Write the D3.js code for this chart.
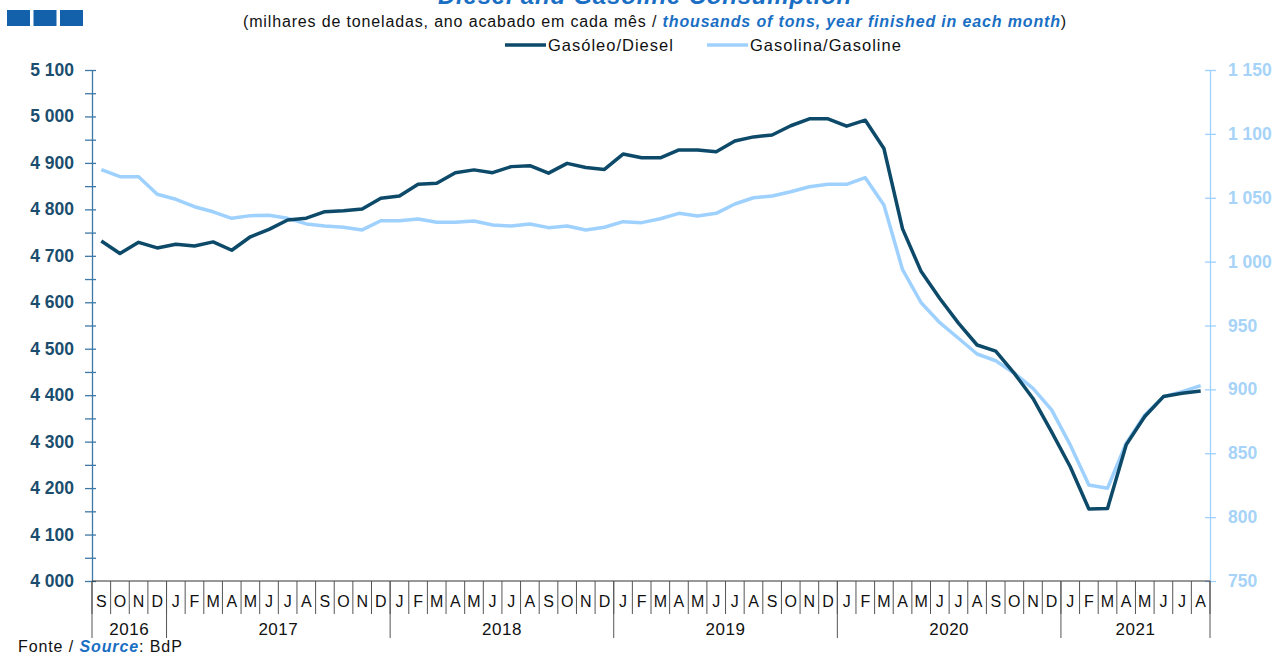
<!DOCTYPE html>
<html>
<head>
<meta charset="utf-8">
<script src="https://cdn.jsdelivr.net/npm/d3@7"></script>
<style>
  html, body { margin: 0; padding: 0; background: #fff; }
  svg { display: block; font-family: "Liberation Sans", Arial, sans-serif; }
</style>
</head>
<body>
<svg id="chart" width="1275" height="656"></svg>
<script>
// Months from September 2016 to August 2021
const monthLetters = [
  "S","O","N","D",
  "J","F","M","A","M","J","J","A","S","O","N","D",
  "J","F","M","A","M","J","J","A","S","O","N","D",
  "J","F","M","A","M","J","J","A","S","O","N","D",
  "J","F","M","A","M","J","J","A","S","O","N","D",
  "J","F","M","A","M","J","J","A"
];
const yearLabels = ["2016","2017","2018","2019","2020","2021"];
const yearMonthCounts = [4, 12, 12, 12, 12, 8];

// Diesel consumption, thousands of tons, 12-month rolling (left axis)
const diesel = [
  4732, 4705, 4729, 4717,
  4725, 4721, 4730, 4712, 4741, 4757, 4777, 4781, 4795, 4797, 4801, 4824,
  4829, 4854, 4856, 4879, 4885, 4879, 4892, 4894, 4878, 4899, 4890, 4886,
  4919, 4911, 4911, 4928, 4928, 4924, 4947, 4956, 4960, 4980, 4995, 4995,
  4979, 4992, 4931, 4758, 4666, 4608, 4555, 4508, 4495, 4447, 4393, 4321,
  4246, 4155, 4156, 4293, 4354, 4397, 4404, 4409
];

// Gasoline consumption, thousands of tons, 12-month rolling (right axis)
const gasoline = [
  1072, 1066.5, 1066.5, 1052.7,
  1048.8, 1043, 1039, 1033.9, 1036, 1036.3, 1033.9, 1029.5, 1027.9, 1026.9, 1024.8, 1032,
  1032, 1033.4, 1030.8, 1030.8, 1031.8, 1028.7, 1027.9, 1029.5, 1026.6, 1027.9, 1024.8, 1026.9,
  1031.3, 1030.5, 1033.6, 1037.8, 1035.7, 1037.8, 1045.1, 1050, 1051.4, 1054.7, 1058.6, 1060.5,
  1060.5, 1065.7, 1044.3, 993.7, 967.8, 952.2, 940, 927.7, 922.4, 912.6, 900.8, 883.9,
  856.5, 825.1, 822.6, 857.8, 880, 894.3, 898.2, 902.9
];

const leftTicks = [4000, 4100, 4200, 4300, 4400, 4500, 4600, 4700, 4800, 4900, 5000, 5100];
const rightTicks = [750, 800, 850, 900, 950, 1000, 1050, 1100, 1150];

const DIESEL_COLOR = "#0d4a6a";
const GASOLINE_COLOR = "#9fd1ff";
const LEFT_AXIS_COLOR = "#3d78a6";
const LEFT_LABEL_COLOR = "#1b4e6e";
const RIGHT_LABEL_COLOR = "#a6d3f7";
const TITLE_BLUE = "#1a6fc4";

const svg = d3.select("#chart");
const plot = { left: 92, right: 1210, top: 70, bottom: 581 };

const fmt = v => d3.format(",")(v).replace(/,/g, " ");

const x = d3.scaleBand()
  .domain(d3.range(monthLetters.length))
  .range([plot.left, plot.right])
  .paddingInner(0).paddingOuter(0);

const yLeft = d3.scaleLinear().domain([4000, 5100]).range([plot.bottom, plot.top]);
const yRight = d3.scaleLinear().domain([750, 1150]).range([plot.bottom, plot.top]);

// Title (runs off the top edge) and subtitle
svg.append("text")
  .attr("x", 645).attr("y", 4)
  .attr("text-anchor", "middle")
  .attr("font-size", 24).attr("font-weight", "bold").attr("font-style", "italic")
  .attr("letter-spacing", 0.8)
  .attr("fill", TITLE_BLUE)
  .text("Diesel and Gasoline Consumption");

const sub = svg.append("text")
  .attr("x", 655).attr("y", 27)
  .attr("text-anchor", "middle")
  .attr("font-size", 16).attr("letter-spacing", 0.85).attr("fill", "#111");
sub.append("tspan").text("(milhares de toneladas,  ano acabado em cada mês / ");
sub.append("tspan").attr("font-weight", "bold").attr("font-style", "italic")
  .attr("fill", TITLE_BLUE).text("thousands of tons, year finished in each month");
sub.append("tspan").text(")");

// Three-square mark at top left
const squares = [0, 1, 2];
svg.selectAll("rect.mark").data(squares).enter().append("rect")
  .attr("class", "mark")
  .attr("x", d => 7 + d * 26.5).attr("y", 10)
  .attr("width", 23).attr("height", 16)
  .attr("fill", "#1461ab");

// Legend
const legend = [
  { label: "Gasóleo/Diesel", color: DIESEL_COLOR, x: 505 },
  { label: "Gasolina/Gasoline", color: GASOLINE_COLOR, x: 707 }
];
const lg = svg.selectAll("g.legend").data(legend).enter().append("g")
  .attr("class", "legend")
  .attr("transform", d => `translate(${d.x},45)`);
lg.append("line").attr("x1", 0).attr("x2", 41).attr("y1", 0).attr("y2", 0)
  .attr("stroke", d => d.color).attr("stroke-width", 3.5);
lg.append("text").attr("x", 43).attr("y", 6)
  .attr("font-size", 16.5).attr("letter-spacing", 1).attr("fill", "#111").text(d => d.label);

// Left axis
const leftAxis = d3.axisLeft(yLeft)
  .tickValues(d3.range(4000, 5101, 50))
  .tickSize(0)
  .tickFormat("");
const gL = svg.append("g").attr("transform", `translate(${plot.left},0)`).call(leftAxis);
gL.select(".domain").attr("stroke", LEFT_AXIS_COLOR).attr("stroke-width", 1.3);
gL.selectAll(".tick line").attr("x1", -7).attr("x2", 4)
  .attr("stroke", LEFT_AXIS_COLOR).attr("stroke-width", 1.3);
svg.append("g").selectAll("text").data(leftTicks).enter().append("text")
  .attr("x", 74).attr("y", d => yLeft(d) + 6)
  .attr("text-anchor", "end")
  .attr("font-size", 17.5).attr("font-weight", "bold")
  .attr("fill", LEFT_LABEL_COLOR)
  .text(fmt);

// Right axis
const rightAxis = d3.axisRight(yRight)
  .tickValues(rightTicks)
  .tickSize(0)
  .tickFormat("");
const gR = svg.append("g").attr("transform", `translate(${plot.right},0)`).call(rightAxis);
gR.select(".domain").attr("stroke", GASOLINE_COLOR).attr("stroke-width", 1.3);
gR.selectAll(".tick line").attr("x1", -5).attr("x2", 6)
  .attr("stroke", GASOLINE_COLOR).attr("stroke-width", 1.3);
svg.append("g").selectAll("text").data(rightTicks).enter().append("text")
  .attr("x", 1228).attr("y", d => yRight(d) + 6)
  .attr("text-anchor", "start")
  .attr("font-size", 17.5).attr("font-weight", "bold")
  .attr("fill", RIGHT_LABEL_COLOR)
  .text(fmt);

// Category axis: baseline, month separators, month letters, year groups
svg.append("line")
  .attr("x1", plot.left).attr("x2", plot.right)
  .attr("y1", plot.bottom).attr("y2", plot.bottom)
  .attr("stroke", "#333").attr("stroke-width", 1);

const bw = x.bandwidth();
const edgeX = i => (i < monthLetters.length ? x(i) : x(i - 1) + bw);
const monthIdx = d3.range(monthLetters.length + 1);
svg.append("g").selectAll("line").data(monthIdx).enter().append("line")
  .attr("x1", edgeX).attr("x2", edgeX)
  .attr("y1", plot.bottom).attr("y2", 614)
  .attr("stroke", "#555").attr("stroke-width", 1);

svg.append("g").selectAll("text").data(monthLetters).enter().append("text")
  .attr("x", (d, i) => x(i) + bw / 2).attr("y", 607)
  .attr("text-anchor", "middle")
  .attr("font-size", 16).attr("fill", "#111")
  .text(d => d);

const yearStarts = yearMonthCounts.map((c, i) => d3.sum(yearMonthCounts.slice(0, i)));
const yearBounds = yearStarts.concat([monthLetters.length]);
svg.append("g").selectAll("line").data(yearBounds).enter().append("line")
  .attr("x1", edgeX).attr("x2", edgeX)
  .attr("y1", plot.bottom).attr("y2", 638)
  .attr("stroke", "#555").attr("stroke-width", 1);

svg.append("g").selectAll("text").data(yearLabels).enter().append("text")
  .attr("x", (d, i) => x(yearStarts[i]) + (yearMonthCounts[i] * bw) / 2)
  .attr("y", 635)
  .attr("text-anchor", "middle")
  .attr("font-size", 17).attr("letter-spacing", 0.5).attr("fill", "#111")
  .text(d => d);

// Series lines
const lineLeft = d3.line().x((d, i) => x(i) + bw / 2).y(d => yLeft(d));
const lineRight = d3.line().x((d, i) => x(i) + bw / 2).y(d => yRight(d));

svg.append("path").datum(gasoline)
  .attr("d", lineRight)
  .attr("fill", "none").attr("stroke", GASOLINE_COLOR)
  .attr("stroke-width", 3.5).attr("stroke-linejoin", "round");

svg.append("path").datum(diesel)
  .attr("d", lineLeft)
  .attr("fill", "none").attr("stroke", DIESEL_COLOR)
  .attr("stroke-width", 3.5).attr("stroke-linejoin", "round");

// Source note
const src = svg.append("text").attr("x", 18).attr("y", 652)
  .attr("font-size", 16).attr("letter-spacing", 0.9).attr("fill", "#111");
src.append("tspan").text("Fonte / ");
src.append("tspan").attr("font-weight", "bold").attr("font-style", "italic")
  .attr("fill", TITLE_BLUE).text("Source");
src.append("tspan").text(": BdP");
</script>
</body>
</html>
